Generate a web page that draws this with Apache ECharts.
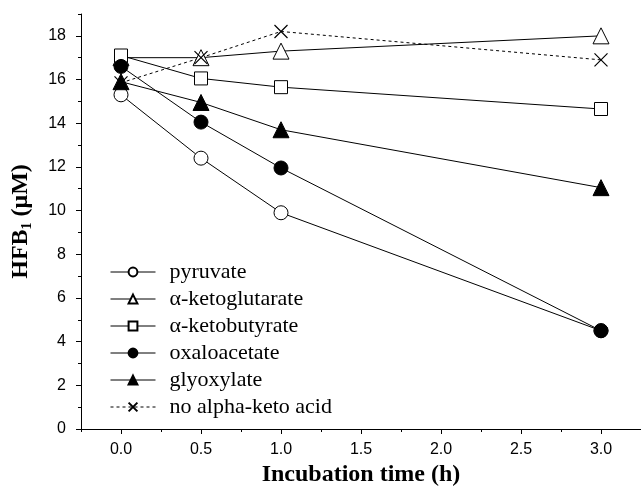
<!DOCTYPE html>
<html><head><meta charset="utf-8">
<script src="https://cdn.jsdelivr.net/npm/echarts@6/dist/echarts.min.js"></script>
<style>html,body{margin:0;padding:0;background:#fff}#c{width:641px;height:486px}</style>
</head><body><div id="c"></div>
<script>
const times = [0, 0.5, 1.0, 3.0];
const pyruvate = [15.3, 12.4, 9.9, 4.5];
const ketoglutarate = [17.0, 17.0, 17.3, 18.0];
const ketobutyrate = [17.1, 16.05, 15.65, 14.65];
const oxaloacetate = [16.6, 14.05, 11.95, 4.5];
const glyoxylate = [15.9, 14.95, 13.7, 11.05];
const noKetoAcid = [15.85, 17.0, 18.2, 16.9];
const seriesNames = ['pyruvate', 'α-ketoglutarate', 'α-ketobutyrate', 'oxaloacetate', 'glyoxylate', 'no alpha-keto acid'];
const xMajorTicks = [0, 0.5, 1.0, 1.5, 2.0, 2.5, 3.0];
const xMinorTicks = [-0.25, 0.25, 0.75, 1.25, 1.75, 2.25, 2.75, 3.25];
const yMajorTicks = [0, 2, 4, 6, 8, 10, 12, 14, 16, 18];
const yMinorTicks = [1, 3, 5, 7, 9, 11, 13, 15, 17, 19];

const pts = arr => times.map((t, i) => [t, arr[i]]);
const crossPath = 'path://M0,0L10,10M10,0L0,10';
const mk = (name, data, symbol, size, filled, dashed) => ({
  name, type: 'line', data: pts(data), symbol, symbolSize: size,
  lineStyle: { color: '#000', width: 1, type: dashed ? [3, 3] : 'solid' },
  itemStyle: { color: filled ? '#000' : '#fff', borderColor: '#000', borderWidth: 1 },
  emphasis: { disabled: true }, animation: false, z: 3
});
const series = [
  mk(seriesNames[0], pyruvate, 'circle', 14, false),
  mk(seriesNames[1], ketoglutarate, 'triangle', 16, false),
  mk(seriesNames[2], ketobutyrate, 'rect', 13, false),
  mk(seriesNames[3], oxaloacetate, 'circle', 14, true),
  mk(seriesNames[4], glyoxylate, 'triangle', 16, true),
  mk(seriesNames[5], noKetoAcid, crossPath, 13, false, true)
];
series[5].itemStyle = { color: 'none', borderColor: '#000', borderWidth: 1.2 };

const axisFont = { fontFamily: 'Liberation Sans', fontSize: 16, color: '#000' };
const titleFont = { fontFamily: 'Liberation Serif', fontWeight: 'bold', fontSize: 24, color: '#000' };
const chart = echarts.init(document.getElementById('c'), null, { renderer: 'canvas' });
chart.setOption({
  animation: false,
  backgroundColor: '#fff',
  grid: { left: 81, right: 0, top: 14, bottom: 57, containLabel: false, outerBoundsMode: 'none' },
  legend: {
    orient: 'vertical', left: 105, top: 256, itemWidth: 45, itemHeight: 11, itemGap: 5,
    data: seriesNames,
    lineStyle: { width: 1 },
    textStyle: { fontFamily: 'Liberation Serif', fontSize: 22, color: '#000', padding: [0, 0, 0, 9] },
    selectedMode: false
  },
  xAxis: [{
    type: 'value', min: -0.25, max: 3.25, position: 'bottom',
    axisLine: { onZero: false, lineStyle: { color: '#000', width: 1 } },
    axisTick: { customValues: xMajorTicks, length: 5, lineStyle: { color: '#000' } },
    axisLabel: { customValues: xMajorTicks, formatter: v => v.toFixed(1), margin: 13, ...axisFont },
    splitLine: { show: false },
    name: 'Incubation time (h)', nameLocation: 'middle', nameGap: 32, nameTextStyle: titleFont
  }, {
    type: 'value', min: -0.25, max: 3.25, position: 'bottom', offset: 0,
    axisLine: { show: false, onZero: false },
    axisTick: { customValues: xMinorTicks, length: 3, lineStyle: { color: '#000' } },
    axisLabel: { show: false }, splitLine: { show: false }
  }],
  yAxis: [{
    type: 'value', min: 0, max: 19, position: 'left',
    axisLine: { show: true, onZero: false, lineStyle: { color: '#000', width: 1 } },
    axisTick: { show: true, customValues: yMajorTicks, length: 5, lineStyle: { color: '#000' } },
    axisLabel: { customValues: yMajorTicks, margin: 15, ...axisFont },
    splitLine: { show: false },
    name: 'HFB{sub|1} (μM)', nameLocation: 'middle', nameGap: 47,
    nameTextStyle: { ...titleFont, rich: { sub: { fontFamily: 'Liberation Serif', fontWeight: 'bold', fontSize: 14, color: '#000', padding: [13, 0, 0, 0] } } }
  }, {
    type: 'value', min: 0, max: 19, position: 'left', offset: 0,
    axisLine: { show: false, onZero: false },
    axisTick: { show: true, customValues: yMinorTicks, length: 3, lineStyle: { color: '#000' } },
    axisLabel: { show: false }, splitLine: { show: false }
  }],
  series
});
</script></body></html>
